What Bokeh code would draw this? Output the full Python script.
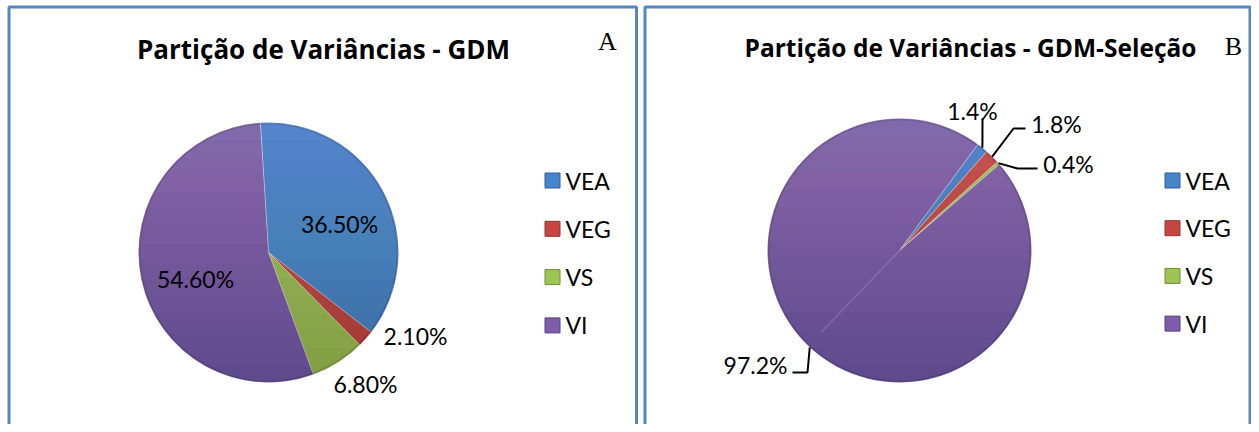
import math
from bokeh.plotting import figure
from bokeh.models import Range1d, ColumnDataSource
from bokeh.core.properties import value
from bokeh.embed import file_html
from bokeh.resources import INLINE

# ---------------- data ----------------
categories = ["VEA", "VEG", "VS", "VI"]
values_a = [36.5, 2.1, 6.8, 54.6]
values_b = [1.4, 1.8, 0.4, 97.2]
title_a = "Partição de Variâncias - GDM"
title_b = "Partição de Variâncias - GDM-Seleção"
tag_a = "A"
tag_b = "B"

# ---------------- style ----------------
colors = ["#4685CC", "#C84642", "#9EC452", "#7C5CAB"]
edge_colors = ["#2F5E99", "#8F3432", "#6F8C3A", "#574080"]
border_color = "#5585C2"
FONT = "Lato"
TFONT = "Open Sans"
W, H = 1251, 424

p = figure(width=W, height=H, x_range=Range1d(0, W), y_range=Range1d(0, H),
           output_backend="svg", toolbar_location=None, min_border=0,
           background_fill_color="white", border_fill_color="white")
p.axis.visible = False
p.grid.visible = False
p.outline_line_color = None


def Y(sy):
    # picture y (down) -> data y (up)
    return H - sy


# ---------------- panel frames ----------------
p.quad(left=[8.5, 644.5], right=[636.0, 1249.5], top=[Y(6.5), Y(6.5)], bottom=[-20, -20],
       fill_color=None, line_color=border_color, line_width=3)


def shade(cx, cy, r, n=14):
    """Vertical light-to-dark shading over a pie (stacked circular segments)."""
    cyd = Y(cy)
    dx, dy, wx, wy = [], [], [], []
    for k in range(1, n + 1):
        yc = cyd - r + k * (2 * r / (n + 1))
        t = math.asin((yc - cyd) / r)
        angs = [math.pi - t + (2 * math.pi + 2 * t - math.pi) * i / 40 for i in range(41)]
        dx.append([cx + r * math.cos(a) for a in angs])
        dy.append([cyd + r * math.sin(a) for a in angs])
        yc2 = cyd + r - k * (2 * r / (n + 1))
        t2 = math.asin((yc2 - cyd) / r)
        angs2 = [t2 + (math.pi - 2 * t2) * i / 40 for i in range(41)]
        wx.append([cx + r * math.cos(a) for a in angs2])
        wy.append([cyd + r * math.sin(a) for a in angs2])
    p.patches(xs=dx, ys=dy, fill_color="black", fill_alpha=0.011, line_color=None)
    p.patches(xs=wx, ys=wy, fill_color="white", fill_alpha=0.007, line_color=None)
    p.circle(x=[cx], y=[cyd], radius=r - 1, fill_color=None, line_color="black",
             line_alpha=0.12, line_width=2)


def draw_pie(vals, cx, cy, r, start_deg, fmt):
    s0 = math.radians(start_deg)
    total = sum(vals)
    starts, ends, mids = [], [], []
    acc = 0.0
    for v in vals:
        a0 = s0 - 2 * math.pi * acc / total
        acc += v
        a1 = s0 - 2 * math.pi * acc / total
        starts.append(a0)
        ends.append(a1)
        mids.append((a0 + a1) / 2)
    src = ColumnDataSource(dict(start=starts, end=ends, color=colors, cat=categories))
    p.wedge(x=cx, y=Y(cy), radius=r, start_angle="start", end_angle="end",
            direction="clock", fill_color="color", line_color="white",
            line_alpha=0.35, line_width=1, source=src)
    shade(cx, cy, r)
    labels = [fmt.format(v) for v in vals]
    return mids, labels


# ---------------- pie A ----------------
cxa, cya, ra = 268, 252, 130
mids_a, labels_a = draw_pie(values_a, cxa, cya, ra, 93.6, "{:.2f}%")
lab_off_a = [(71, -29), (147, 83), (97, 131), (-73, 26)]
p.text(x=[cxa + dx for dx, dy in lab_off_a], y=[Y(cya + dy) for dx, dy in lab_off_a],
       text=labels_a, text_align="center", text_baseline="middle",
       text_font=value(FONT), text_font_size="23px", text_color="black")

# ---------------- pie B ----------------
cxb, cyb, rb = 899, 250, 132
mids_b, labels_b = draw_pie(values_b, cxb, cyb, rb, 53.6, "{:.1f}%")
seam_ang = (mids_b[0] + mids_b[2]) / 2 + math.pi
p.ray(x=[cxb], y=[Y(cyb)], length=rb * 0.86, angle=seam_ang, line_color="#9A80C6",
      line_alpha=0.5, line_width=1.5)

lab_off_b = [(73, -140), (157, -127), (169, -87), (-144, 114)]
p.text(x=[cxb + dx for dx, dy in lab_off_b], y=[Y(cyb + dy) for dx, dy in lab_off_b],
       text=labels_b, text_align="center", text_baseline="middle",
       text_font=value(FONT), text_font_size="23px", text_color="black")
elbow_b = [(83, -132), (114, -122), (118, -82), (-92, 122)]
end_b = [(83, -132), (126, -122), (138, -82), (-107, 122)]
xs, ys = [], []
for m, (ex, ey), (tx, ty) in zip(mids_b, elbow_b, end_b):
    px = cxb + rb * math.cos(m)
    py = Y(cyb) + rb * math.sin(m)
    xs.append([px, cxb + ex, cxb + tx])
    ys.append([py, Y(cyb + ey), Y(cyb + ty)])
p.multi_line(xs=xs, ys=ys, line_color="black", line_width=2)

# ---------------- titles ----------------
p.text(x=[323], y=[Y(48)], text=[title_a], text_align="center",
       text_baseline="middle", text_font=value(TFONT), text_font_style="bold",
       text_font_size="26px", text_color="black")
p.text(x=[970], y=[Y(47)], text=[title_b], text_align="center",
       text_baseline="middle", text_font=value(TFONT), text_font_style="bold",
       text_font_size="24.5px", text_color="black")
p.text(x=[607, 1233], y=[Y(41), Y(46)], text=[tag_a, tag_b], text_align="center",
       text_baseline="middle", text_font=value("Liberation Serif"),
       text_font_size="26px", text_color="black")

# ---------------- legends ----------------
for lx, ly0, step in [(552, 180, 48.3), (1172, 180, 47.7)]:
    ys_leg = [Y(ly0 + i * step) for i in range(len(categories))]
    p.rect(x=[lx] * len(categories), y=ys_leg, width=15, height=15,
           fill_color=colors, line_color=edge_colors, line_width=1)
    p.text(x=[lx + 13] * len(categories), y=ys_leg, text=categories,
           text_align="left", text_baseline="middle", text_font=value(FONT),
           text_font_size="23px", text_color="black")

open("out.html", "w").write(file_html(p, INLINE))
